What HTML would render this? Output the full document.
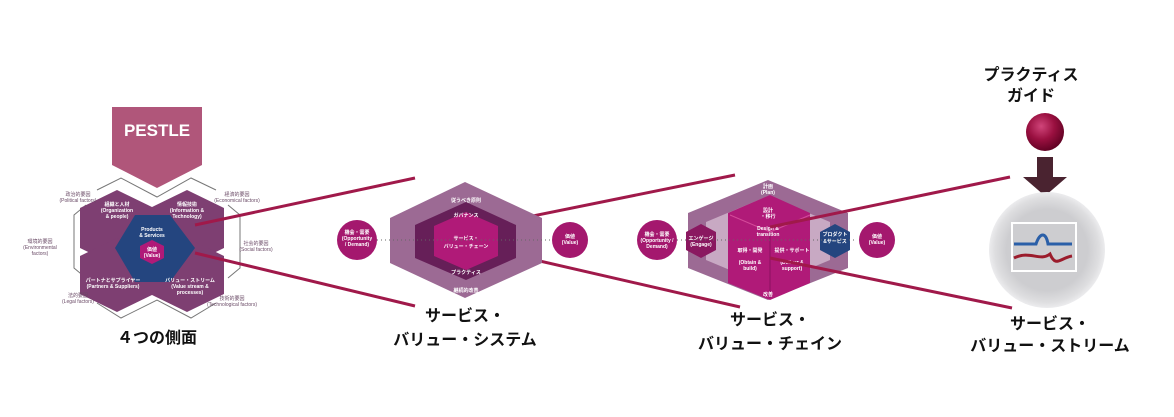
<!DOCTYPE html>
<html><head><meta charset="utf-8"><style>
body{margin:0;background:#fff;}
svg{display:block;font-family:"Liberation Sans","Noto Sans CJK JP",sans-serif;}
.t{font-weight:bold;font-size:16px;fill:#111;text-anchor:middle;}
.s{font-size:5px;fill:#fff;text-anchor:middle;font-weight:bold;}
.g{font-size:5px;fill:#6a4a66;text-anchor:middle;}
</style></head><body>
<svg width="1174" height="417" viewBox="0 0 1174 417">
<!-- Section 1 -->
<polygon points="112,107 202,107 202,165 157,188 112,165" fill="#b0567a"/>
<text x="157" y="136" font-size="17" font-weight="bold" fill="#fff" text-anchor="middle">PESTLE</text>
<polyline points="97,190 121,178 157,197 191,178 216,190" fill="none" stroke="#777" stroke-width="1"/>
<polyline points="228,205 240,215 240,268 228,278" fill="none" stroke="#777"/>
<polyline points="86,205 74,215 74,268 86,278" fill="none" stroke="#777"/>
<polyline points="97,303 121,318 157,300 191,318 216,303" fill="none" stroke="#777"/>
<polygon points="117,190 154,208 154,248 117,266 80,248 80,208" fill="#7e3f72"/>
<polygon points="187,190 224,208 224,248 187,266 150,248 150,208" fill="#7e3f72"/>
<polygon points="117,238 154,256 154,294 117,312 80,294 80,256" fill="#7e3f72"/>
<polygon points="187,238 224,256 224,294 187,312 150,294 150,256" fill="#7e3f72"/>
<polygon points="115,248 135,215 170,215 195,248 170,282 135,282" fill="#24457f"/>
<polygon points="152,240 164,246 164,258 152,264 140,258 140,246" fill="#b01a78"/>
<text class="s" x="152" y="231">Products</text><text class="s" x="152" y="237">&amp; Services</text>
<text class="s" x="152" y="251">価値</text><text class="s" x="152" y="257">(Value)</text>
<text class="s" x="117" y="206">組織と人材</text><text class="s" x="117" y="212">(Organization</text><text class="s" x="117" y="218">&amp; people)</text>
<text class="s" x="187" y="206">情報技術</text><text class="s" x="187" y="212">(Information &amp;</text><text class="s" x="187" y="218">Technology)</text>
<text class="s" x="113" y="282">パートナとサプライヤー</text><text class="s" x="113" y="288">(Partners &amp; Suppliers)</text>
<text class="s" x="190" y="282">バリュー・ストリーム</text><text class="s" x="190" y="288">(Value stream &amp;</text><text class="s" x="190" y="294">processes)</text>
<text class="g" x="78" y="196">政治的要因</text><text class="g" x="78" y="202">(Political factors)</text>
<text class="g" x="237" y="196">経済的要因</text><text class="g" x="237" y="202">(Economical factors)</text>
<text class="g" x="40" y="243">環境的要因</text><text class="g" x="40" y="249">(Environmental</text><text class="g" x="40" y="255">factors)</text>
<text class="g" x="256" y="245">社会的要因</text><text class="g" x="256" y="251">(Social factors)</text>
<text class="g" x="78" y="297">法的要因</text><text class="g" x="78" y="303">(Legal factors)</text>
<text class="g" x="232" y="300">技術的要因</text><text class="g" x="232" y="306">(Technological factors)</text>
<text class="t" x="157" y="343" font-size="17">４つの側面</text>
<!-- red lines -->
<g stroke="#a0194a" stroke-width="3">
<line x1="195" y1="225" x2="415" y2="178"/><line x1="195" y1="253" x2="415" y2="306"/>
<line x1="503" y1="222" x2="735" y2="175"/><line x1="505" y1="253" x2="740" y2="307"/>
</g>
<!-- Section 2 -->
<polygon points="465,182 542,218 542,263 465,298 390,263 390,218" fill="#9c6a94"/>
<polygon points="466,202 516,225 516,258 466,280 415,258 415,225" fill="#661f58"/>
<polygon points="466,212 498,226 498,256 466,270 434,256 434,226" fill="#b01a78"/>
<text class="s" x="466" y="202">従うべき原則</text><text class="s" x="466" y="217">ガバナンス</text>
<text class="s" x="466" y="240" font-size="6">サービス・</text><text class="s" x="466" y="248" font-size="6">バリュー・チェーン</text>
<text class="s" x="466" y="274">プラクティス</text><text class="s" x="466" y="292">継続的改善</text>
<line x1="377" y1="240" x2="553" y2="240" stroke="#666" stroke-dasharray="1,3"/>
<circle cx="357" cy="240" r="20" fill="#a4186e"/><circle cx="570" cy="240" r="18" fill="#a4186e"/>
<text class="s" x="357" y="234">機会・需要</text><text class="s" x="357" y="240">(Opportunity</text><text class="s" x="357" y="246">/ Demand)</text>
<text class="s" x="570" y="238">価値</text><text class="s" x="570" y="244">(Value)</text>
<text class="t" x="465" y="321">サービス・</text><text class="t" x="465" y="345">バリュー・システム</text>
<!-- Section 3 -->
<polygon points="768,180 848,213 848,268 768,300 688,268 688,213" fill="#9c6a94"/>
<polygon points="768,196 830,222 830,260 768,286 706,260 706,222" fill="#c8a9c3"/>
<polygon points="770,195 810,213 810,283 770,300 728,283 728,213" fill="#b01a78"/>
<line x1="770" y1="232" x2="770" y2="298" stroke="#8c1060" stroke-width="1"/>
<line x1="730" y1="215" x2="770" y2="232" stroke="#d44a9a"/>
<line x1="810" y1="215" x2="770" y2="232" stroke="#d44a9a"/>
<polygon points="701,224 716,232 716,250 701,258 686,250 686,232" fill="#8a1860"/>
<polygon points="835,224 850,232 850,250 835,258 820,250 820,232" fill="#24457f"/>
<line x1="677" y1="240" x2="857" y2="240" stroke="#666" stroke-dasharray="1,3"/>
<circle cx="657" cy="240" r="20" fill="#a4186e"/><circle cx="877" cy="240" r="18" fill="#a4186e"/>
<text class="s" x="657" y="236">機会・需要</text><text class="s" x="657" y="242">(Opportunity /</text><text class="s" x="657" y="248">Demand)</text>
<text class="s" x="877" y="238">価値</text><text class="s" x="877" y="244">(Value)</text>
<text class="s" x="701" y="240" font-size="6">エンゲージ</text><text class="s" x="701" y="246">(Engage)</text>
<text class="s" x="835" y="236" font-size="6">プロダクト</text><text class="s" x="835" y="243" font-size="6">&amp;サービス</text>
<text class="s" x="768" y="188" font-size="6">計画</text><text class="s" x="768" y="194">(Plan)</text>
<text class="s" x="768" y="212">設計</text><text class="s" x="768" y="218">・移行</text><text class="s" x="768" y="230">Design &amp;</text><text class="s" x="768" y="236">transition</text>
<text class="s" x="750" y="252">取得・開発</text><text class="s" x="750" y="264">(Obtain &amp;</text><text class="s" x="750" y="270">build)</text>
<text class="s" x="792" y="252">提供・サポート</text><text class="s" x="792" y="264">(Deliver &amp;</text><text class="s" x="792" y="270">support)</text>
<text class="s" x="768" y="296" font-size="6">改善</text>
<g stroke="#a0194a" stroke-width="3">
<line x1="770" y1="227" x2="1010" y2="177"/><line x1="770" y1="258" x2="1012" y2="308"/>
</g>
<text class="t" x="770" y="325">サービス・</text><text class="t" x="770" y="349">バリュー・チェイン</text>
<!-- Section 4 -->
<text class="t" x="1031" y="80">プラクティス</text><text class="t" x="1031" y="101">ガイド</text>
<defs><radialGradient id="b" cx="0.4" cy="0.35" r="0.7"><stop offset="0" stop-color="#d0457a"/><stop offset="0.5" stop-color="#9a1040"/><stop offset="1" stop-color="#5a0020"/></radialGradient>
<radialGradient id="c" cx="0.5" cy="0.5" r="0.5"><stop offset="0.7" stop-color="#cdcdd0"/><stop offset="0.9" stop-color="#dedee0"/><stop offset="1" stop-color="#ececee"/></radialGradient></defs>
<circle cx="1045" cy="132" r="19" fill="url(#b)"/>
<polygon points="1037,157 1053,157 1053,177 1067,177 1045,196 1023,177 1037,177" fill="#4a2330"/>
<circle cx="1047" cy="250" r="58" fill="url(#c)"/>
<rect x="1012" y="223" width="64" height="48" fill="none" stroke="#fff" stroke-width="2"/>
<path d="M1014,244 L1036,244 C1040,232 1046,232 1048,244 L1072,244" fill="none" stroke="#2a5fa8" stroke-width="3"/>
<path d="M1014,258 C1030,250 1040,262 1050,254 C1056,268 1060,258 1072,256" fill="none" stroke="#9b1c2c" stroke-width="3"/>
<text class="t" x="1050" y="329">サービス・</text><text class="t" x="1050" y="351">バリュー・ストリーム</text>
</svg>
</body></html>
